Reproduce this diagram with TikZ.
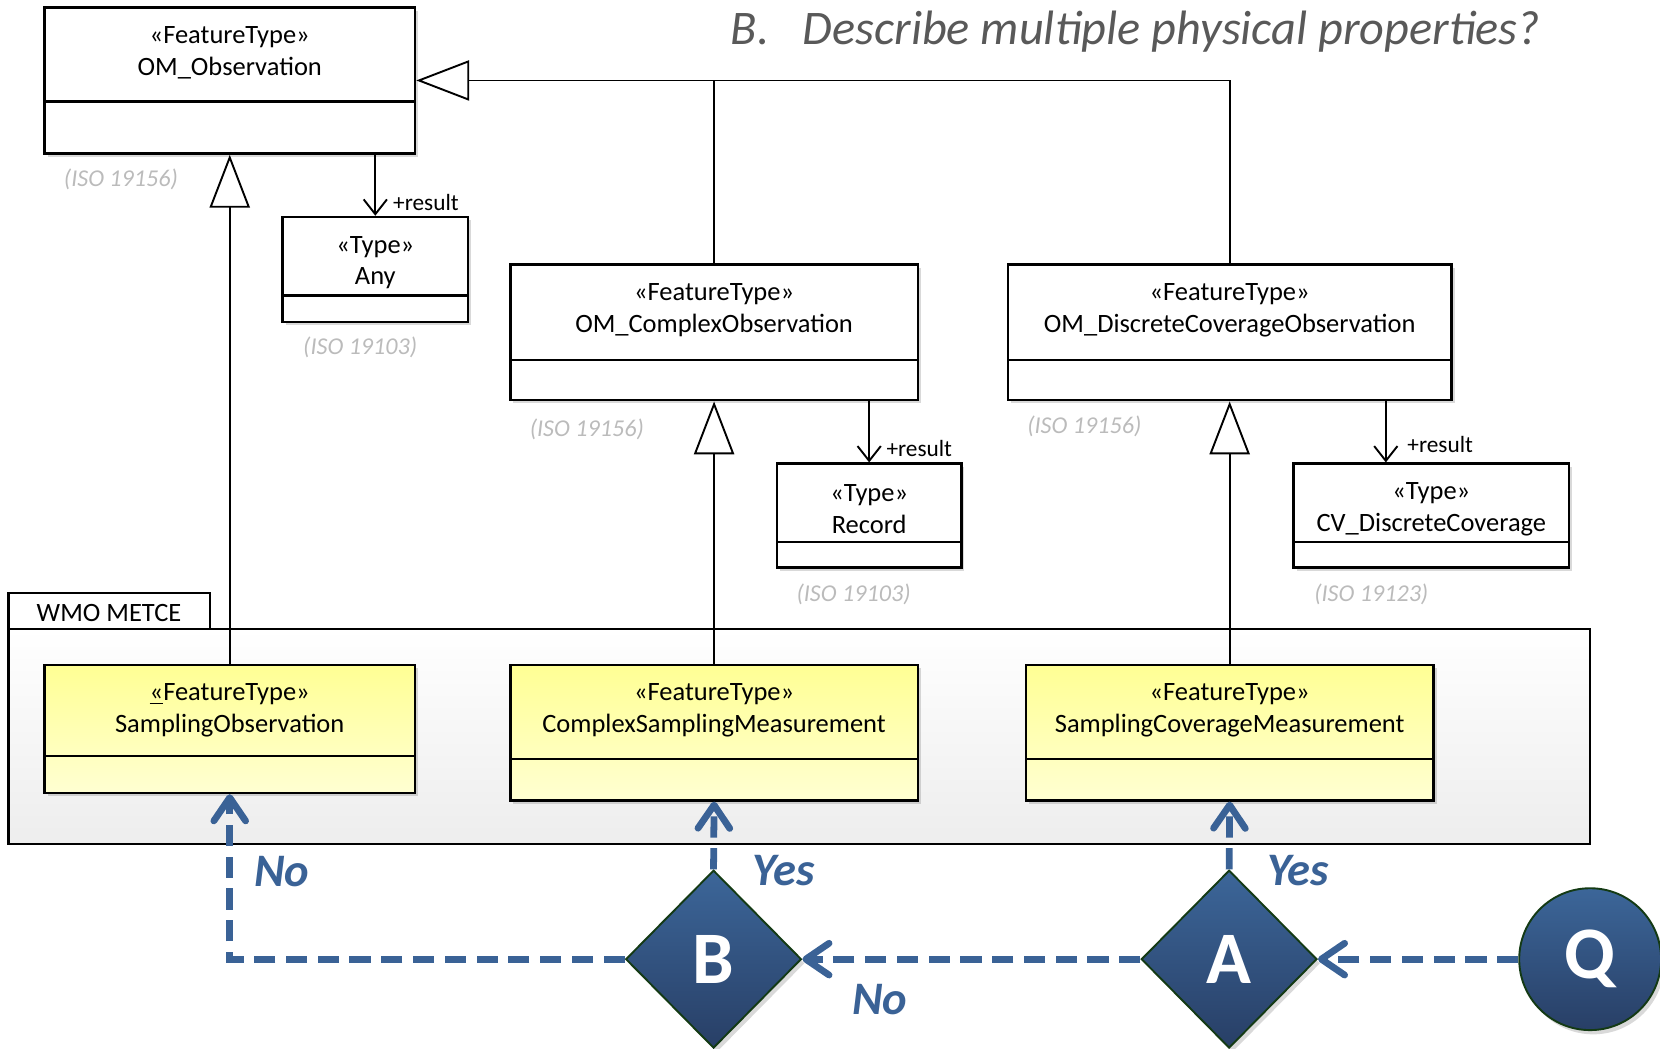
\documentclass[tikz,border=0pt]{standalone}
\usepackage{fontspec}
\setmainfont{Carlito}
\usetikzlibrary{arrows.meta,shapes.geometric,shadows,fit,calc}
\definecolor{flowblue}{HTML}{3A6296}
\definecolor{darkfill}{HTML}{283F66}
\definecolor{topfill}{HTML}{3C6699}
\definecolor{edgegreen}{HTML}{143A14}
\definecolor{isogray}{HTML}{BBBBBB}
\definecolor{titlegray}{HTML}{595959}
\definecolor{ytop}{HTML}{FFFF94}
\definecolor{ybot}{HTML}{FFFFD2}

\tikzset{
  shade/.style={drop shadow={opacity=0.3, shadow xshift=1.5pt, shadow yshift=-1.5pt}},
  wcls/.style={draw=black, line width=1.2pt, inner sep=0pt, fill=white, shade},
  ycls/.style={draw=black, line width=1.2pt, inner sep=0pt, top color=ytop, bottom color=ybot, shade},
  divline/.style={line width=1.1pt},
  clstext/.style={align=center, font=\fontsize{12.5}{15}\selectfont, inner sep=0pt},
  isolabel/.style={anchor=west, text=isogray, font=\fontsize{11.4}{13}\selectfont\itshape, inner sep=0pt},
  rolelabel/.style={anchor=west, font=\fontsize{11}{13}\selectfont, inner sep=0pt},
  gen/.style={line width=0.9pt, -{Triangle[length=25pt,width=19pt,fill=white]}},
  assoc/.style={line width=0.9pt, -{Straight Barb[length=7pt,width=11pt]}},
  flow/.style={draw=flowblue, line width=3.2pt, dash pattern=on 10pt off 5pt,
    -{Straight Barb[round,length=11pt,width=15pt]}},
  answer/.style={text=flowblue, font=\fontsize{22}{26}\selectfont\bfseries\itshape, inner sep=0pt},
  decision/.style={diamond, draw=edgegreen, line width=0.9pt, top color=topfill, bottom color=darkfill,
    minimum width=83pt, minimum height=84pt, inner sep=0pt, text=white,
    font=\fontsize{35}{40}\selectfont\bfseries,
    drop shadow={opacity=0.3, shadow xshift=1.5pt, shadow yshift=-2pt}},
  question/.style={circle, draw=edgegreen, line width=0.9pt, top color=topfill, bottom color=darkfill,
    minimum size=67pt, inner sep=0pt, text=white,
    font=\fontsize{35}{40}\selectfont\bfseries,
    drop shadow={opacity=0.3, shadow xshift=1.5pt, shadow yshift=-2pt}},
}

\newcommand{\umlbox}[8]{%
  \node[fit={(#2,#3) (#4,#5)}, #8] (#1) {};
  \draw[divline] (#2,#6) -- (#4,#6);
  \node[clstext] (#1-name) at ({(#2+#4)/2},{#3+43}) {#7};
}

\begin{document}
\begin{tikzpicture}[x=0.5pt,y=-0.5pt]
\useasboundingbox (0,0) rectangle (1568,990);

% title
\node[anchor=base west, text=titlegray, font=\fontsize{22.8}{26}\selectfont\itshape, inner sep=0pt] (titleB) at (690,42) {B.};
\node[anchor=base west, text=titlegray, font=\fontsize{22.8}{26}\selectfont\itshape, inner sep=0pt] (title) at (758,42) {Describe multiple physical properties?};

% package
\node[fit={(8,594) (1502,797)}, draw=black, line width=1pt, inner sep=0pt, top color=white, bottom color=black!7] (pkg) {};
\node[fit={(8,560) (198,594)}, draw=black, line width=1pt, inner sep=0pt, fill=white] (pkgtab) {};
\node[font=\fontsize{12.5}{15}\selectfont, inner sep=0pt] (pkgname) at (103,579) {WMO METCE};

% ISO classes
\umlbox{obs}{42}{7}{392}{145}{96}{«FeatureType»\\OM\_Observation}{wcls}
\umlbox{any}{267}{205}{442}{304}{279}{«Type»\\Any}{wcls}
\umlbox{ocx}{482}{250}{867}{378}{340}{«FeatureType»\\OM\_ComplexObservation}{wcls}
\umlbox{rec}{734}{438}{908}{536}{512}{«Type»\\Record}{wcls}
\umlbox{odc}{952}{250}{1371}{378}{340}{«FeatureType»\\OM\_DiscreteCoverageObservation}{wcls}
\umlbox{cvd}{1222}{438}{1482}{536}{512}{«Type»\\CV\_DiscreteCoverage}{wcls}

% WMO classes
\umlbox{sobs}{42}{628}{392}{749}{714}{\underline{«}FeatureType»\\SamplingObservation}{ycls}
\umlbox{csm}{482}{628}{867}{756}{717}{«FeatureType»\\ComplexSamplingMeasurement}{ycls}
\umlbox{scm}{969}{628}{1354}{756}{717}{«FeatureType»\\SamplingCoverageMeasurement}{ycls}

% ISO labels
\node[isolabel] (iso1) at (60,169) {(ISO 19156)};
\node[isolabel] (iso2) at (286,328) {(ISO 19103)};
\node[isolabel] (iso3) at (500,406) {(ISO 19156)};
\node[isolabel] (iso4) at (752,561) {(ISO 19103)};
\node[isolabel] (iso5) at (970,403) {(ISO 19156)};
\node[isolabel] (iso6) at (1241,561) {(ISO 19123)};

% generalizations
\draw[gen] (sobs.north) -- (obs.south);
\draw[gen] (csm.north) -- (ocx.south);
\draw[gen] (scm.north) -- (odc.south);
\draw[line width=0.9pt] (odc.north) |- (ocx.north |- obs.east);
\draw[gen] (ocx.north) |- (obs.east);

% associations
\coordinate (cvx) at (1309,0);
\draw[assoc] (any.north |- obs.south) -- (any.north);
\draw[assoc] (rec.north |- ocx.south) -- (rec.north);
\draw[assoc] (cvx |- odc.south) -- (cvx |- cvd.north);
\node[rolelabel] (r1) at (371,191) {+result};
\node[rolelabel] (r2) at (837,424) {+result};
\node[rolelabel] (r3) at (1329,420) {+result};

% decision flow
\node[question] (Q) at (1502,906) {Q};
\node[decision] (A) at (1161,906) {A};
\node[decision] (B) at (674,906) {B};

\draw[flow] (Q.west) -- (A.east);
\draw[flow] (A.west) -- (B.east);
\draw[flow] (B.west) -| (sobs.south);
\draw[flow] (B.north) -- (csm.south);
\draw[flow] (A.north) -- (scm.south);

\node[answer] (no1) at (266,823) {No};
\node[answer] (yes1) at (740,822) {Yes};
\node[answer] (yes2) at (1226,822) {Yes};
\node[answer] (no2) at (831,944) {No};
\end{tikzpicture}
\end{document}
